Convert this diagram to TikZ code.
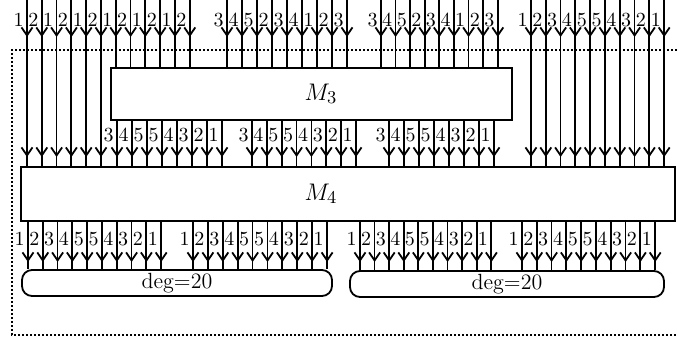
\documentclass[tikz,border=0pt]{standalone}
\usepackage{amsmath}
\usetikzlibrary{arrows.meta}
\begin{document}
\begin{tikzpicture}[
  x=0.5pt,y=-0.5pt,
  box/.style={draw,line width=0.9pt,inner sep=0pt,font=\fontsize{12.5}{15}\selectfont},
  pool/.style={draw,line width=0.9pt,rounded corners=5pt,inner sep=0pt,minimum height=13pt,font=\fontsize{11}{13}\selectfont},
  wire/.style={line width=0.9pt},
  arr/.style={-{Straight Barb[length=4pt,width=5.5pt]},line width=0.9pt},
  lab/.style={anchor=east,inner sep=1.5pt},
  frame/.style={line width=0.9pt,dash pattern=on 1pt off 1pt}
]
\useasboundingbox (0,0) rectangle (677,340);
\node[box,minimum width=200.5pt,minimum height=26pt] (m3) at (311.5,94) {\hspace*{9.5pt}$M_3$};
\node[box,minimum width=327pt,minimum height=27pt] (m4) at (348,194) {$M_4$\hspace*{27pt}};
\node[pool,minimum width=155pt] (d1) at (177,283) {deg=20};
\node[pool,minimum width=157pt] (d2) at (507,284) {deg=20};
\draw[frame] (677,50) -| (12,335) -- (677,335);
% inputs
\foreach \l [count=\i from 0] in {1,2,1,2,1,2,1,2,1,2,1,2}{
  \pgfmathsetmacro\x{27+14.8*\i}
  \node[lab] at (\x,20) {\l};
  \ifnum\i<6
    \draw[wire] (\x,0) -- (\x,0 |- m4.north);
    \draw[arr] (\x,0) -- (\x,157);
  \else
    \draw[wire] (\x,0) -- (\x,0 |- m3.north);
  \fi
  \draw[arr] (\x,0) -- (\x,37);
}
\foreach \s/\d in {227/15,381/14.6}{
  \foreach \l [count=\i from 0] in {3,4,5,2,3,4,1,2,3}{
    \pgfmathsetmacro\x{\s+\d*\i}
    \node[lab] at (\x,20) {\l};
    \draw[wire] (\x,0) -- (\x,0 |- m3.north);
    \draw[arr] (\x,0) -- (\x,37);
  }
}
\foreach \l [count=\i from 0] in {1,2,3,4,5,5,4,3,2,1}{
  \pgfmathsetmacro\x{531+14.8*\i}
  \node[lab] at (\x,20) {\l};
  \draw[wire] (\x,0) -- (\x,0 |- m4.north);
  \draw[arr] (\x,0) -- (\x,37);
  \draw[arr] (\x,0) -- (\x,157);
}
% M3 -> M4
\foreach \s/\d in {117/15,252/14.86,389/15}{
  \foreach \l [count=\i from 0] in {3,4,5,5,4,3,2,1}{
    \pgfmathsetmacro\x{\s+\d*\i}
    \node[lab] at (\x,135) {\l};
    \draw[wire] (\x,0 |- m3.south) -- (\x,0 |- m4.north);
    \draw[arr] (\x,0 |- m3.south) -- (\x,157);
  }
}
% M4 -> deg
\foreach \s/\d/\n in {28/14.8/d1,193/14.9/d1,360/14.6/d2,522/14.8/d2}{
  \foreach \l [count=\i from 0] in {1,2,3,4,5,5,4,3,2,1}{
    \pgfmathsetmacro\x{\s+\d*\i}
    \node[lab] at (\x,239) {\l};
    \draw[wire] (\x,0 |- m4.south) -- (\x,0 |- \n.north);
    \draw[arr] (\x,0 |- m4.south) -- (\x,262);
  }
}
\end{tikzpicture}
\end{document}
